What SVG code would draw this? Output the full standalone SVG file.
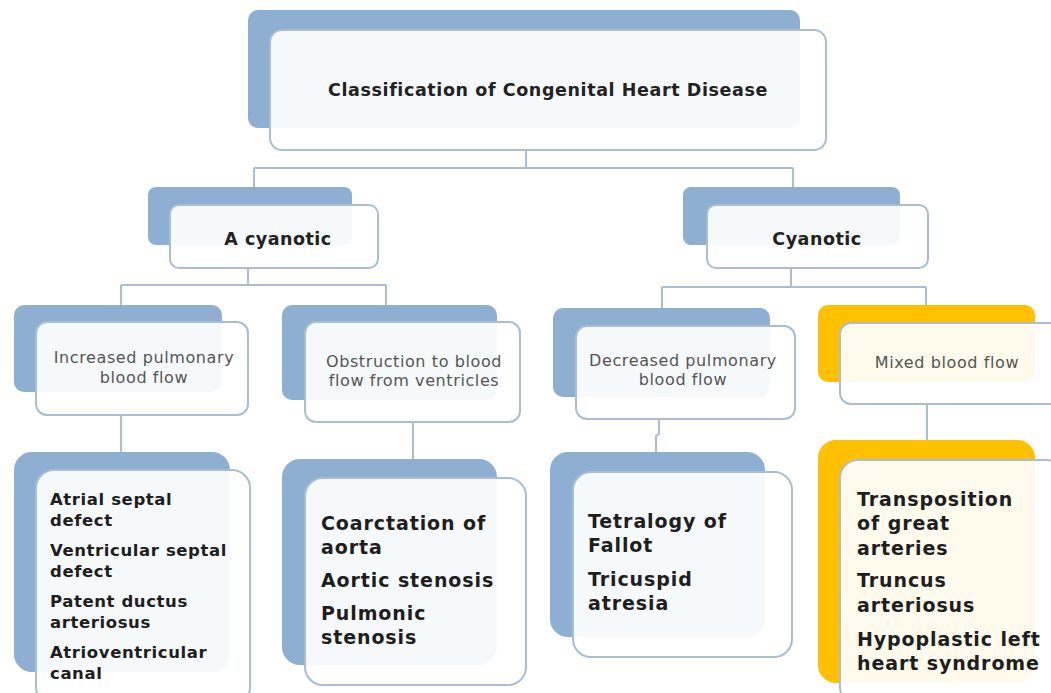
<svg xmlns="http://www.w3.org/2000/svg" width="1051" height="693" viewBox="0 0 1051 693">
  <style>
    .back { fill: #8eafd1; }
    .back-o { fill: #ffc000; }
    .front { fill: #ffffff; fill-opacity: 0.92; stroke: #a9bed3; stroke-width: 2; }
    .conn { fill: none; stroke: #a9bed3; stroke-width: 2; }
    .head { font-family: "DejaVu Sans", "Liberation Sans", sans-serif; font-weight: bold; fill: #222222; }
    .sub { font-family: "DejaVu Sans", "Liberation Sans", sans-serif; fill: #555555; font-size: 16px; letter-spacing: 0.6px; }
    .item { font-family: "DejaVu Sans", "Liberation Sans", sans-serif; font-weight: bold; fill: #1e1e1e; }
  </style>
  <rect width="1051" height="693" fill="#ffffff"/>

  <!-- connectors -->
  <g id="connectors">
    <path class="conn" d="M526 150 V168 M254 168 H793 M254 168 V187 M793 168 V187"/>
    <path class="conn" d="M248 268 V285 M121 285 H386 M121 285 V305 M386 285 V305"/>
    <path class="conn" d="M791 268 V287 M662 287 H926 M662 287 V308 M926 287 V305"/>
    <path class="conn" d="M121 415 V452"/>
    <path class="conn" d="M413 422 V459"/>
    <path class="conn" d="M659 419 V434 L656 436 V452"/>
    <path class="conn" d="M927 404 V440"/>
  </g>

  <!-- root -->
  <g id="root">
    <rect class="back" x="248" y="10" width="552" height="118" rx="10"/>
    <rect class="front" x="270" y="30" width="556" height="120" rx="12"/>
    <text class="head" x="548" y="96" font-size="17.5" letter-spacing="0.6" text-anchor="middle">Classification  of  Congenital  Heart  Disease</text>
  </g>

  <!-- acyanotic branch -->
  <g id="acyanotic">
    <rect class="back" x="148" y="187" width="204" height="58" rx="8"/>
    <rect class="front" x="170" y="205" width="208" height="63" rx="9"/>
    <text class="head" x="278" y="245" font-size="17.5" letter-spacing="0.5" text-anchor="middle">A cyanotic</text>
  </g>

  <g id="cyanotic">
    <rect class="back" x="683" y="187" width="217" height="58" rx="8"/>
    <rect class="front" x="707" y="205" width="221" height="63" rx="9"/>
    <text class="head" x="817" y="245" font-size="17.5" letter-spacing="0.5" text-anchor="middle">Cyanotic</text>
  </g>

  <!-- third level -->
  <g id="increased-flow">
    <rect class="back" x="14" y="305" width="208" height="87" rx="10"/>
    <rect class="front" x="36" y="322" width="212" height="93" rx="11"/>
    <text class="sub" x="144" y="363" text-anchor="middle">Increased pulmonary</text>
    <text class="sub" x="144" y="383" text-anchor="middle">blood flow</text>
  </g>

  <g id="obstruction">
    <rect class="back" x="282" y="305" width="215" height="95" rx="10"/>
    <rect class="front" x="305" y="322" width="215" height="100" rx="11"/>
    <text class="sub" x="414" y="367" text-anchor="middle">Obstruction to blood</text>
    <text class="sub" x="414" y="386" text-anchor="middle">flow from ventricles</text>
  </g>

  <g id="decreased-flow">
    <rect class="back" x="553" y="308" width="217" height="89" rx="10"/>
    <rect class="front" x="576" y="326" width="219" height="93" rx="11"/>
    <text class="sub" x="683" y="366" text-anchor="middle">Decreased pulmonary</text>
    <text class="sub" x="683" y="385" text-anchor="middle">blood flow</text>
  </g>

  <g id="mixed-flow">
    <rect class="back-o" x="818" y="305" width="217" height="77" rx="10"/>
    <rect class="front" x="840" y="323" width="222" height="81" rx="11"/>
    <text class="sub" x="947" y="368" text-anchor="middle">Mixed blood flow</text>
  </g>

  <!-- fourth level -->
  <g id="acyanotic-shunts">
    <rect class="back" x="14" y="452" width="216" height="220" rx="18"/>
    <rect class="front" x="36" y="470" width="214" height="235" rx="18"/>
    <g class="item" font-size="16.5" letter-spacing="0.6">
      <text x="50" y="505">Atrial septal</text>
      <text x="50" y="526">defect</text>
      <text x="50" y="556">Ventricular septal</text>
      <text x="50" y="577">defect</text>
      <text x="50" y="607">Patent ductus</text>
      <text x="50" y="628">arteriosus</text>
      <text x="50" y="658">Atrioventricular</text>
      <text x="50" y="679">canal</text>
    </g>
  </g>

  <g id="obstructive-lesions">
    <rect class="back" x="282" y="459" width="215" height="206" rx="18"/>
    <rect class="front" x="305" y="478" width="221" height="207" rx="18"/>
    <g class="item" font-size="19" letter-spacing="0.9">
      <text x="321" y="530">Coarctation of</text>
      <text x="321" y="554">aorta</text>
      <text x="321" y="587">Aortic stenosis</text>
      <text x="321" y="620">Pulmonic</text>
      <text x="321" y="644">stenosis</text>
    </g>
  </g>

  <g id="decreased-lesions">
    <rect class="back" x="550" y="452" width="215" height="185" rx="18"/>
    <rect class="front" x="573" y="472" width="219" height="185" rx="18"/>
    <g class="item" font-size="19" letter-spacing="0.9">
      <text x="588" y="528">Tetralogy of</text>
      <text x="588" y="552">Fallot</text>
      <text x="588" y="586">Tricuspid</text>
      <text x="588" y="610">atresia</text>
    </g>
  </g>

  <g id="mixed-lesions">
    <rect class="back-o" x="818" y="440" width="217" height="243" rx="18"/>
    <rect class="front" x="840" y="460" width="225" height="245" rx="18"/>
    <g class="item" font-size="19" letter-spacing="0.9">
      <text x="857" y="506">Transposition</text>
      <text x="857" y="530">of great</text>
      <text x="857" y="555">arteries</text>
      <text x="857" y="587">Truncus</text>
      <text x="857" y="612">arteriosus</text>
      <text x="857" y="646">Hypoplastic left</text>
      <text x="857" y="670">heart syndrome</text>
    </g>
  </g>
</svg>
